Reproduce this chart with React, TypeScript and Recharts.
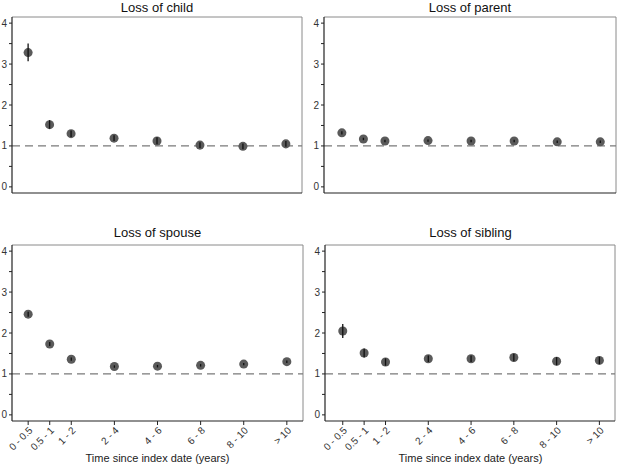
import React from 'react';
import { ScatterChart, Scatter, XAxis, YAxis, ErrorBar, ReferenceLine } from 'recharts';

const categories = ['0 - 0.5', '0.5 - 1', '1 - 2', '2 - 4', '4 - 6', '6 - 8', '8 - 10', '> 10'];
// axis slot of each interval (the original axis leaves gaps after "1 - 2")
const slots = [1, 2, 3, 5, 7, 9, 11, 13];
const yTicks = [0, 0.5, 1, 1.5, 2, 2.5, 3, 3.5, 4];
const yDomain: [number, number] = [-0.15, 4.15];

const childHR = [3.28, 1.52, 1.30, 1.19, 1.12, 1.02, 0.99, 1.05];
const childLow = [3.07, 1.42, 1.22, 1.12, 1.04, 0.95, 0.92, 0.98];
const childHigh = [3.50, 1.63, 1.38, 1.26, 1.21, 1.09, 1.06, 1.12];

const parentHR = [1.32, 1.17, 1.12, 1.13, 1.12, 1.12, 1.10, 1.10];
const parentLow = [1.28, 1.14, 1.09, 1.10, 1.09, 1.09, 1.07, 1.07];
const parentHigh = [1.36, 1.20, 1.15, 1.16, 1.15, 1.15, 1.13, 1.13];

const spouseHR = [2.46, 1.73, 1.36, 1.18, 1.19, 1.21, 1.24, 1.30];
const spouseLow = [2.40, 1.68, 1.32, 1.15, 1.16, 1.18, 1.21, 1.27];
const spouseHigh = [2.52, 1.78, 1.40, 1.21, 1.22, 1.24, 1.27, 1.33];

const siblingHR = [2.05, 1.51, 1.29, 1.37, 1.37, 1.40, 1.31, 1.33];
const siblingLow = [1.88, 1.40, 1.20, 1.29, 1.29, 1.31, 1.21, 1.24];
const siblingHigh = [2.22, 1.62, 1.38, 1.45, 1.45, 1.49, 1.41, 1.42];

const FONT = "Arial, 'Liberation Sans', sans-serif";

function buildRows(hr: number[], lo: number[], hi: number[]) {
  return categories.map((c, i) => ({
    name: c,
    x: slots[i],
    y: hr[i],
    err: [hr[i] - lo[i], hi[i] - hr[i]],
  }));
}

const labelFor = (v: number) => {
  const i = slots.indexOf(v);
  return i >= 0 ? categories[i] : '';
};

type PanelProps = {
  hr: number[];
  lo: number[];
  hi: number[];
  left: number;
  top: number;
  width: number;
  height: number;
  yAxisWidth: number;
  marginRight: number;
  marginTop: number;
  xAxisHeight: number;
  xDomain: [number, number];
  showLabels: boolean;
};

function Panel(p: PanelProps) {
  const rows = buildRows(p.hr, p.lo, p.hi);
  return (
    <div style={{ position: 'absolute', left: p.left, top: p.top, width: p.width, height: p.height }}>
      <div style={{ position: 'absolute', left: 0, top: 0 }}>
        <ScatterChart
          width={p.width}
          height={p.height}
          margin={{ top: p.marginTop, right: p.marginRight, bottom: 0, left: 0 }}
        >
          <XAxis
            dataKey="x"
            type="number"
            domain={p.xDomain}
            allowDataOverflow
            ticks={slots}
            interval={0}
            height={p.xAxisHeight}
            tickSize={4}
            tickMargin={1}
            axisLine={{ stroke: '#222', strokeWidth: 1.2 }}
            tickLine={{ stroke: '#222' }}
            tick={p.showLabels ? { fontSize: 10, fill: '#333', fontFamily: FONT } : false as any}
            tickFormatter={p.showLabels ? labelFor : () => ''}
            angle={-45}
            textAnchor="end"
          />
          <YAxis
            dataKey="y"
            type="number"
            domain={yDomain}
            allowDataOverflow
            ticks={yTicks}
            interval={0}
            width={p.yAxisWidth}
            tickSize={3}
            tickMargin={2}
            axisLine={{ stroke: '#222', strokeWidth: 1.2 }}
            tickLine={{ stroke: '#222' }}
            tick={{ fontSize: 10, fill: '#333', fontFamily: FONT }}
            tickFormatter={(v: number) => (Number.isInteger(v) ? String(v) : '')}
          />
          <ReferenceLine y={yDomain[1]} stroke="#8a8a8a" strokeWidth={1} />
          <ReferenceLine x={p.xDomain[1]} stroke="#8a8a8a" strokeWidth={1} />
          <ReferenceLine y={1} stroke="#7a7a7a" strokeWidth={1.2} strokeDasharray="8 5" />
          <Scatter data={rows} fill="#5a5a5a" isAnimationActive={false} />
        </ScatterChart>
      </div>
      <div style={{ position: 'absolute', left: 0, top: 0 }}>
        <ScatterChart
          width={p.width}
          height={p.height}
          margin={{ top: p.marginTop, right: p.marginRight, bottom: p.xAxisHeight, left: p.yAxisWidth }}
        >
          <XAxis dataKey="x" type="number" domain={p.xDomain} allowDataOverflow hide />
          <YAxis dataKey="y" type="number" domain={yDomain} allowDataOverflow hide />
          <Scatter data={rows} fill="none" shape={() => <g />} isAnimationActive={false}>
            <ErrorBar dataKey="err" direction="y" width={0} stroke="#111" strokeWidth={1.3} isAnimationActive={false} />
          </Scatter>
        </ScatterChart>
      </div>
    </div>
  );
}

export default function App() {
  const leftDomain: [number, number] = [0.25, 13.75];
  const rightDomain: [number, number] = [0.17, 13.73];
  return (
    <div
      style={{
        position: 'absolute',
        left: 0,
        top: 0,
        width: 618,
        height: 467,
        background: '#fff',
        fontFamily: FONT,
        overflow: 'hidden',
      }}
    >
      <Panel hr={childHR} lo={childLow} hi={childHigh} left={0} top={0} width={310} height={200}
        yAxisWidth={12} marginRight={8} marginTop={17} xAxisHeight={7} xDomain={leftDomain} showLabels={false} />
      <Panel hr={parentHR} lo={parentLow} hi={parentHigh} left={310} top={0} width={308} height={200}
        yAxisWidth={14} marginRight={2} marginTop={17} xAxisHeight={7} xDomain={rightDomain} showLabels={false} />
      <Panel hr={spouseHR} lo={spouseLow} hi={spouseHigh} left={0} top={220} width={310} height={247}
        yAxisWidth={12} marginRight={7} marginTop={25} xAxisHeight={46} xDomain={leftDomain} showLabels={true} />
      <Panel hr={siblingHR} lo={siblingLow} hi={siblingHigh} left={310} top={220} width={308} height={247}
        yAxisWidth={15} marginRight={3} marginTop={25} xAxisHeight={46} xDomain={rightDomain} showLabels={true} />
      <svg width={618} height={467} style={{ position: 'absolute', left: 0, top: 0, pointerEvents: 'none' }}>
        <g fontFamily={FONT} fill="#111" textAnchor="middle">
          <text x={157} y={11.7} fontSize={13}>Loss of child</text>
          <text x={470} y={11.7} fontSize={13}>Loss of parent</text>
          <text x={157.5} y={237.3} fontSize={13}>Loss of spouse</text>
          <text x={470.5} y={237.3} fontSize={13}>Loss of sibling</text>
          <text x={157.5} y={462.3} fontSize={11} fill="#222">Time since index date (years)</text>
          <text x={470.5} y={462.3} fontSize={11} fill="#222">Time since index date (years)</text>
        </g>
      </svg>
    </div>
  );
}
